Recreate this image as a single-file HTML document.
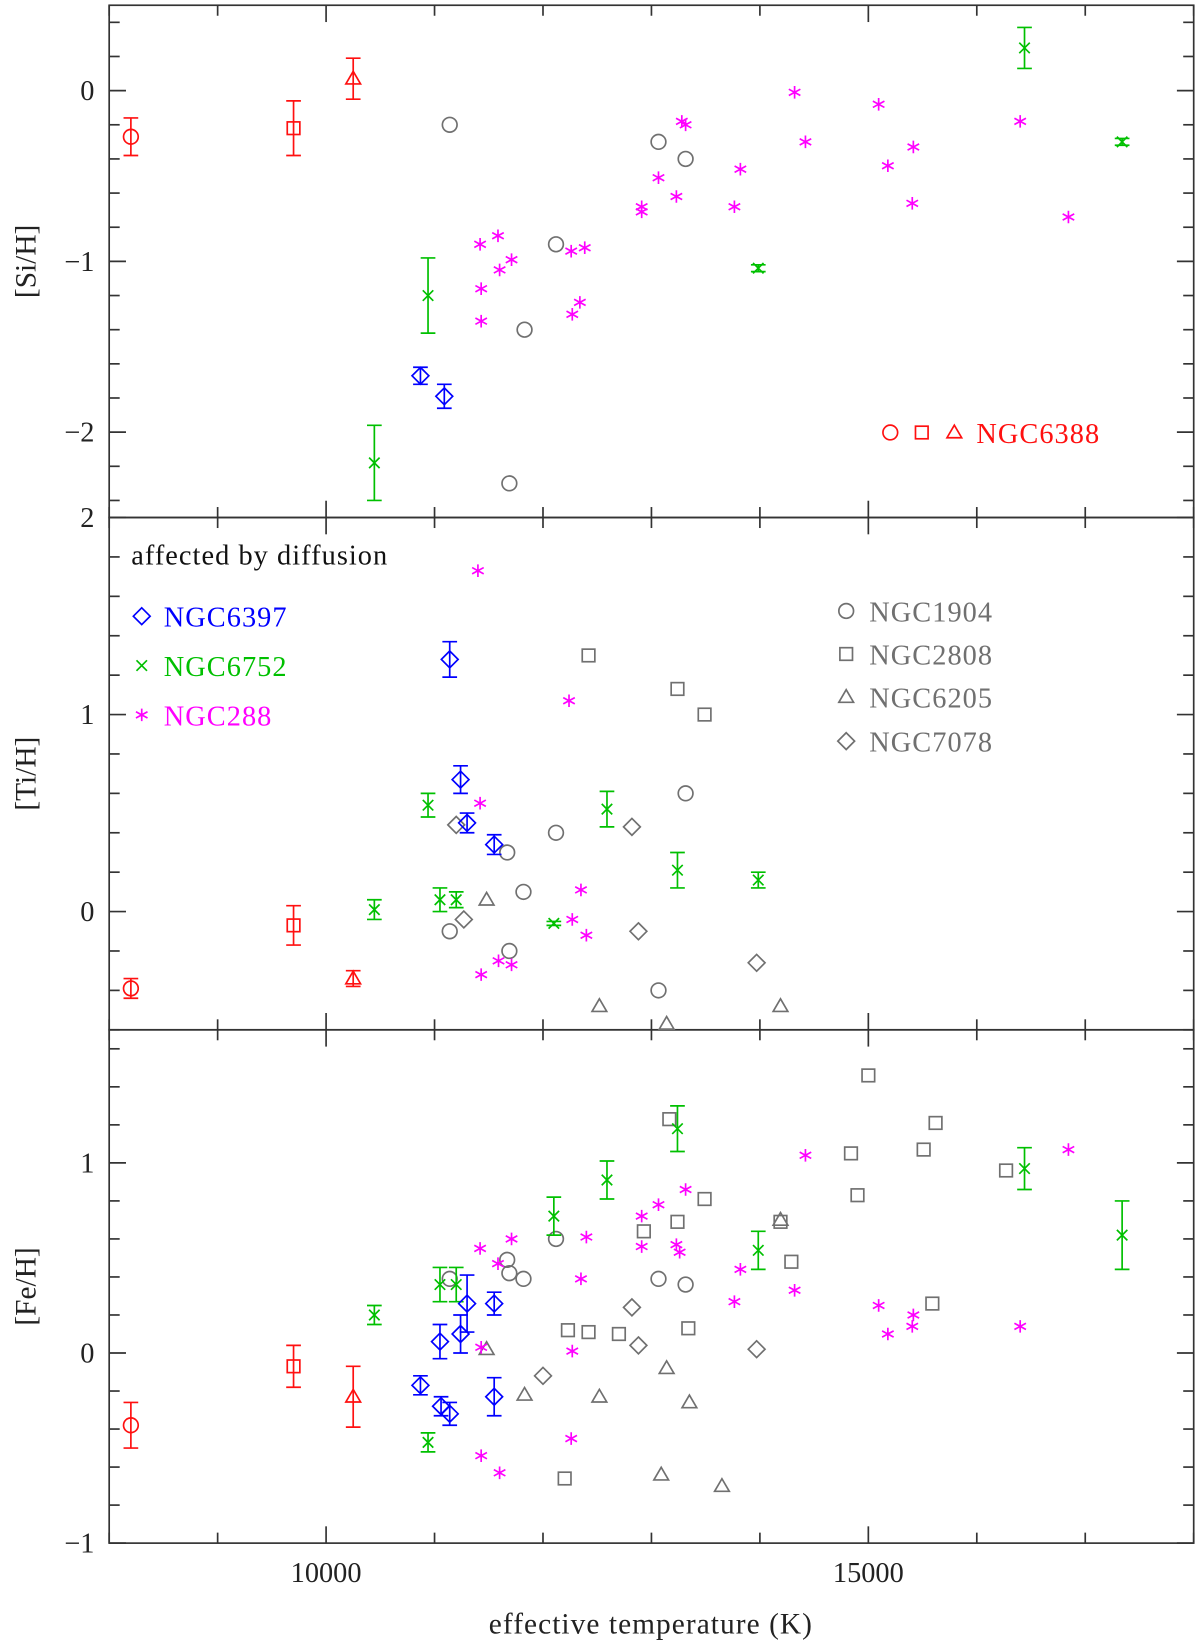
<!DOCTYPE html>
<html><head><meta charset="utf-8"><style>
html,body{margin:0;padding:0;background:#fff;}
svg{display:block;font-family:"Liberation Serif",serif;}
</style></head><body>
<svg id="chart" width="1200" height="1646" viewBox="0 0 1143 1568" preserveAspectRatio="none" xmlns="http://www.w3.org/2000/svg"></svg>
<script>
// ---- data: [Teff, value, error] ----
const siNGC6388circ=[[8200,-0.27,0.11]];
const siNGC6388sq=[[9700,-0.22,0.16]];
const siNGC6388tri=[[10250,0.07,0.12]];
const siNGC6397=[[10870,-1.67,0.05],[11090,-1.79,0.07]];
const siNGC6752=[[10940,-1.2,0.22],[10445,-2.18,0.22],[13985,-1.04,0.02],[16440,0.25,0.12],[17340,-0.3,0.02]];
const siNGC1904=[[11140,-0.2],[11830,-1.4],[12120,-0.9],[11690,-2.3],[13065,-0.3],[13315,-0.4]];
const siNGC288=[[11420,-0.9],[11585,-0.85],[11710,-0.99],[11600,-1.05],[11430,-1.16],[11430,-1.35],[12260,-0.94],[12385,-0.92],[12340,-1.24],[12270,-1.31],[12910,-0.68],[12910,-0.71],[13065,-0.51],[13230,-0.62],[13280,-0.18],[13315,-0.2],[13820,-0.46],[13765,-0.68],[14320,-0.01],[14420,-0.3],[15095,-0.08],[15180,-0.44],[15415,-0.33],[15405,-0.66],[16400,-0.18],[16845,-0.74]];

const tiNGC6388circ=[[8200,-0.39,0.05]];
const tiNGC6388sq=[[9700,-0.07,0.1]];
const tiNGC6388tri=[[10250,-0.34,0.04]];
const tiNGC6397=[[11140,1.28,0.09],[11240,0.67,0.07],[11300,0.45,0.05],[11550,0.34,0.05]];
const tiNGC6752=[[10940,0.54,0.06],[10445,0.01,0.05],[11050,0.06,0.06],[11200,0.06,0.04],[12100,-0.06,0.01],[12590,0.52,0.09],[13240,0.21,0.09],[13985,0.16,0.04]];
const tiNGC1904=[[11670,0.3],[11820,0.1],[12120,0.4],[11140,-0.1],[11690,-0.2],[13065,-0.4],[13315,0.6]];
const tiNGC2808=[[12420,1.3],[13240,1.13],[13490,1.0]];
const tiNGC6205=[[11480,0.06],[12520,-0.48],[13140,-0.57],[14190,-0.48]];
const tiNGC7078=[[11200,0.44],[11270,-0.04],[12820,0.43],[12880,-0.1],[13970,-0.26]];
const tiNGC288=[[11400,1.73],[12240,1.07],[11420,0.55],[12350,0.11],[12270,-0.04],[12400,-0.12],[11590,-0.25],[11430,-0.32],[11710,-0.27]];

const feNGC6388circ=[[8200,-0.38,0.12]];
const feNGC6388sq=[[9700,-0.07,0.11]];
const feNGC6388tri=[[10250,-0.23,0.16]];
const feNGC6397=[[10870,-0.17,0.05],[11050,0.06,0.09],[11060,-0.28,0.05],[11140,-0.32,0.06],[11240,0.1,0.1],[11300,0.26,0.15],[11550,0.26,0.06],[11550,-0.23,0.1]];
const feNGC6752=[[10445,0.2,0.05],[10940,-0.47,0.05],[11050,0.36,0.09],[11200,0.36,0.09],[12100,0.72,0.1],[12590,0.91,0.1],[13240,1.18,0.12],[13985,0.54,0.1],[16440,0.97,0.11],[17340,0.62,0.18]];
const feNGC1904=[[11140,0.39],[11670,0.49],[11690,0.42],[11820,0.39],[12120,0.6],[13065,0.39],[13315,0.36]];
const feNGC2808=[[13165,1.23],[13240,0.69],[13490,0.81],[12930,0.64],[12230,0.12],[12420,0.11],[12700,0.1],[13340,0.13],[12200,-0.66],[14190,0.69],[14290,0.48],[14840,1.05],[14900,0.83],[15000,1.46],[15510,1.07],[15620,1.21],[15590,0.26],[16270,0.96]];
const feNGC6205=[[11480,0.02],[11830,-0.22],[12520,-0.23],[13140,-0.08],[13350,-0.26],[13090,-0.64],[13650,-0.7],[14190,0.7]];
const feNGC7078=[[12820,0.24],[12880,0.04],[12000,-0.12],[13970,0.02]];
const feNGC288=[[11420,0.55],[11585,0.47],[11710,0.6],[11430,0.03],[11430,-0.54],[11600,-0.63],[12400,0.61],[12350,0.39],[12270,0.01],[12260,-0.45],[12910,0.72],[12910,0.56],[13065,0.78],[13230,0.57],[13260,0.53],[13315,0.86],[13820,0.44],[13765,0.27],[14420,1.04],[14320,0.33],[15095,0.25],[15180,0.1],[15415,0.2],[15405,0.14],[16400,0.14],[16845,1.07]];

const xTicks=[8000,9000,10000,11000,12000,13000,14000,15000,16000,17000,18000];
const xTickLabels=[10000,15000];

// ---- layout ----
const NS="http://www.w3.org/2000/svg";
const svg=document.getElementById('chart');
const X0=104,X1=1137,TMIN=8000,TMAX=18000;
function xs(t){return X0+(t-TMIN)/(TMAX-TMIN)*(X1-X0);}
const panels=[
 {name:'si',top:5,bot:493,min:-2.5,max:0.5,labels:[0,-1,-2],title:'[Si/H]'},
 {name:'ti',top:493,bot:981,min:-0.6,max:2.0,labels:[2,1,0],title:'[Ti/H]'},
 {name:'fe',top:981,bot:1470,min:-1,max:1.7,labels:[1,0,-1],title:'[Fe/H]'}
];
function ys(p,v){return p.bot-(v-p.min)/(p.max-p.min)*(p.bot-p.top);}
function el(tag,attrs,parent){const e=document.createElementNS(NS,tag);for(const k in attrs)e.setAttribute(k,attrs[k]);(parent||svg).appendChild(e);return e;}
const RED='#ff1010',BLUE='#0000ff',GREEN='#00c000',MAG='#ff00ff',GREY='#707070';

function sym(shape,cx,cy,col,g){
 const a={fill:'none',stroke:col,'stroke-width':1.6};
 let e;
 if(shape==='circle'){e=el('circle',Object.assign({cx:cx,cy:cy,r:7},a),g);}
 else if(shape==='square'){e=el('rect',Object.assign({x:cx-6,y:cy-6,width:12,height:12},a),g);}
 else if(shape==='triangle'){e=el('path',Object.assign({d:`M${cx-7},${cy+5}L${cx+7},${cy+5}L${cx},${cy-7}Z`},a),g);}
 else if(shape==='diamond'){e=el('path',Object.assign({d:`M${cx},${cy-8}L${cx+8},${cy}L${cx},${cy+8}L${cx-8},${cy}Z`},a),g);}
 else if(shape==='cross'){e=el('path',Object.assign({d:`M${cx-5},${cy-5}L${cx+5},${cy+5}M${cx-5},${cy+5}L${cx+5},${cy-5}`},a),g);}
 else if(shape==='star'){e=el('path',Object.assign({d:`M${cx},${cy-6}L${cx},${cy+6}M${cx-5.5},${cy-3}L${cx+5.5},${cy+3}M${cx-5.5},${cy+3}L${cx+5.5},${cy-3}`},a),g);}
 
 
 return e;
}
function series(p,data,shape,col,name){
 const g=el('g',{});
 
 
 data.forEach(d=>{
  const cx=xs(d[0]),cy=ys(p,d[1]);
  if(d.length>2){
   const y1=ys(p,d[1]+d[2]),y2=ys(p,d[1]-d[2]);
   const eb=el('path',{d:`M${cx},${y1}L${cx},${y2}M${cx-7},${y1}L${cx+7},${y1}M${cx-7},${y2}L${cx+7},${y2}`,stroke:col,'stroke-width':1.6,fill:'none'},g);
   
   
  }
  sym(shape,cx,cy,col,g);
 });
}

// axes
panels.forEach(p=>{
 const g=el('g',{});
 
 
 el('rect',{x:X0,y:p.top,width:X1-X0,height:p.bot-p.top,fill:'none',stroke:'#333','stroke-width':1.6},g);
 xTicks.forEach(t=>{
  const x=xs(t),L=(t%5000===0)?16:10;
  el('line',{x1:x,x2:x,y1:p.bot,y2:p.bot-L,stroke:'#333','stroke-width':1.6},g);
  el('line',{x1:x,x2:x,y1:p.top,y2:p.top+L,stroke:'#333','stroke-width':1.6},g);
 });
 for(let v=Math.ceil(p.min*5)/5;v<=p.max+1e-6;v+=0.2){
  const vv=Math.round(v*10)/10,y=ys(p,vv),L=(Math.abs(vv-Math.round(vv))<1e-6)?16:10;
  el('line',{x1:X0,x2:X0+L,y1:y,y2:y,stroke:'#333','stroke-width':1.6},g);
  el('line',{x1:X1,x2:X1-L,y1:y,y2:y,stroke:'#333','stroke-width':1.6},g);
 }
 p.labels.forEach(v=>{
  const t=el('text',{x:90,y:ys(p,v)+9,'text-anchor':'end','font-size':27,fill:'#222'},g);
  t.textContent=v<0?'\u2212'+(-v):String(v);
  
  
 });
 const cy=(p.top+p.bot)/2;
 const tt=el('text',{x:34,y:cy,'text-anchor':'middle','font-size':28,fill:'#222',transform:`rotate(-90 34 ${cy})`},g);
 tt.textContent=p.title;
 
 
});
xTickLabels.forEach(t=>{
 const e=el('text',{x:xs(t),y:1507,'text-anchor':'middle','font-size':27,fill:'#222'});
 e.textContent=String(t);
 
 
});
const xt=el('text',{x:620,y:1556,'text-anchor':'middle','font-size':28,fill:'#222','letter-spacing':'1'});
xt.textContent='effective temperature (K)';



const [PS,PT,PF]=panels;
// Si
series(PS,siNGC1904,'circle',GREY,'ngc1904');
series(PS,siNGC288,'star',MAG,'ngc288');
series(PS,siNGC6752,'cross',GREEN,'ngc6752');
series(PS,siNGC6397,'diamond',BLUE,'ngc6397');
series(PS,siNGC6388circ,'circle',RED,'ngc6388-a');
series(PS,siNGC6388sq,'square',RED,'ngc6388-b');
series(PS,siNGC6388tri,'triangle',RED,'ngc6388-c');
// Ti
series(PT,tiNGC1904,'circle',GREY,'ngc1904');
series(PT,tiNGC2808,'square',GREY,'ngc2808');
series(PT,tiNGC6205,'triangle',GREY,'ngc6205');
series(PT,tiNGC7078,'diamond',GREY,'ngc7078');
series(PT,tiNGC288,'star',MAG,'ngc288');
series(PT,tiNGC6752,'cross',GREEN,'ngc6752');
series(PT,tiNGC6397,'diamond',BLUE,'ngc6397');
series(PT,tiNGC6388circ,'circle',RED,'ngc6388-a');
series(PT,tiNGC6388sq,'square',RED,'ngc6388-b');
series(PT,tiNGC6388tri,'triangle',RED,'ngc6388-c');
// Fe
series(PF,feNGC1904,'circle',GREY,'ngc1904');
series(PF,feNGC2808,'square',GREY,'ngc2808');
series(PF,feNGC6205,'triangle',GREY,'ngc6205');
series(PF,feNGC7078,'diamond',GREY,'ngc7078');
series(PF,feNGC288,'star',MAG,'ngc288');
series(PF,feNGC6752,'cross',GREEN,'ngc6752');
series(PF,feNGC6397,'diamond',BLUE,'ngc6397');
series(PF,feNGC6388circ,'circle',RED,'ngc6388-a');
series(PF,feNGC6388sq,'square',RED,'ngc6388-b');
series(PF,feNGC6388tri,'triangle',RED,'ngc6388-c');

// legends
function legText(x,y,txt,col,name){
 const t=el('text',{x:x,y:y,'font-size':27,fill:col,'letter-spacing':'1'});
 t.textContent=txt;
 
 
}
sym('circle',848,412,RED);sym('square',878,412,RED);sym('triangle',909,412,RED);
legText(930,422,'NGC6388',RED,'legend-ngc6388');
legText(125,538,'affected by diffusion','#111','legend-heading');
sym('diamond',135,587,BLUE);legText(156,597,'NGC6397',BLUE,'legend-ngc6397');
sym('cross',135,634,GREEN);legText(156,644,'NGC6752',GREEN,'legend-ngc6752');
sym('star',135,681,MAG);legText(156,691,'NGC288',MAG,'legend-ngc288');
sym('circle',806,582,GREY);legText(828,592,'NGC1904',GREY,'legend-ngc1904');
sym('square',806,623,GREY);legText(828,633,'NGC2808',GREY,'legend-ngc2808');
sym('triangle',806,664,GREY);legText(828,674,'NGC6205',GREY,'legend-ngc6205');
sym('diamond',806,706,GREY);legText(828,716,'NGC7078',GREY,'legend-ngc7078');
</script>
</body></html>
